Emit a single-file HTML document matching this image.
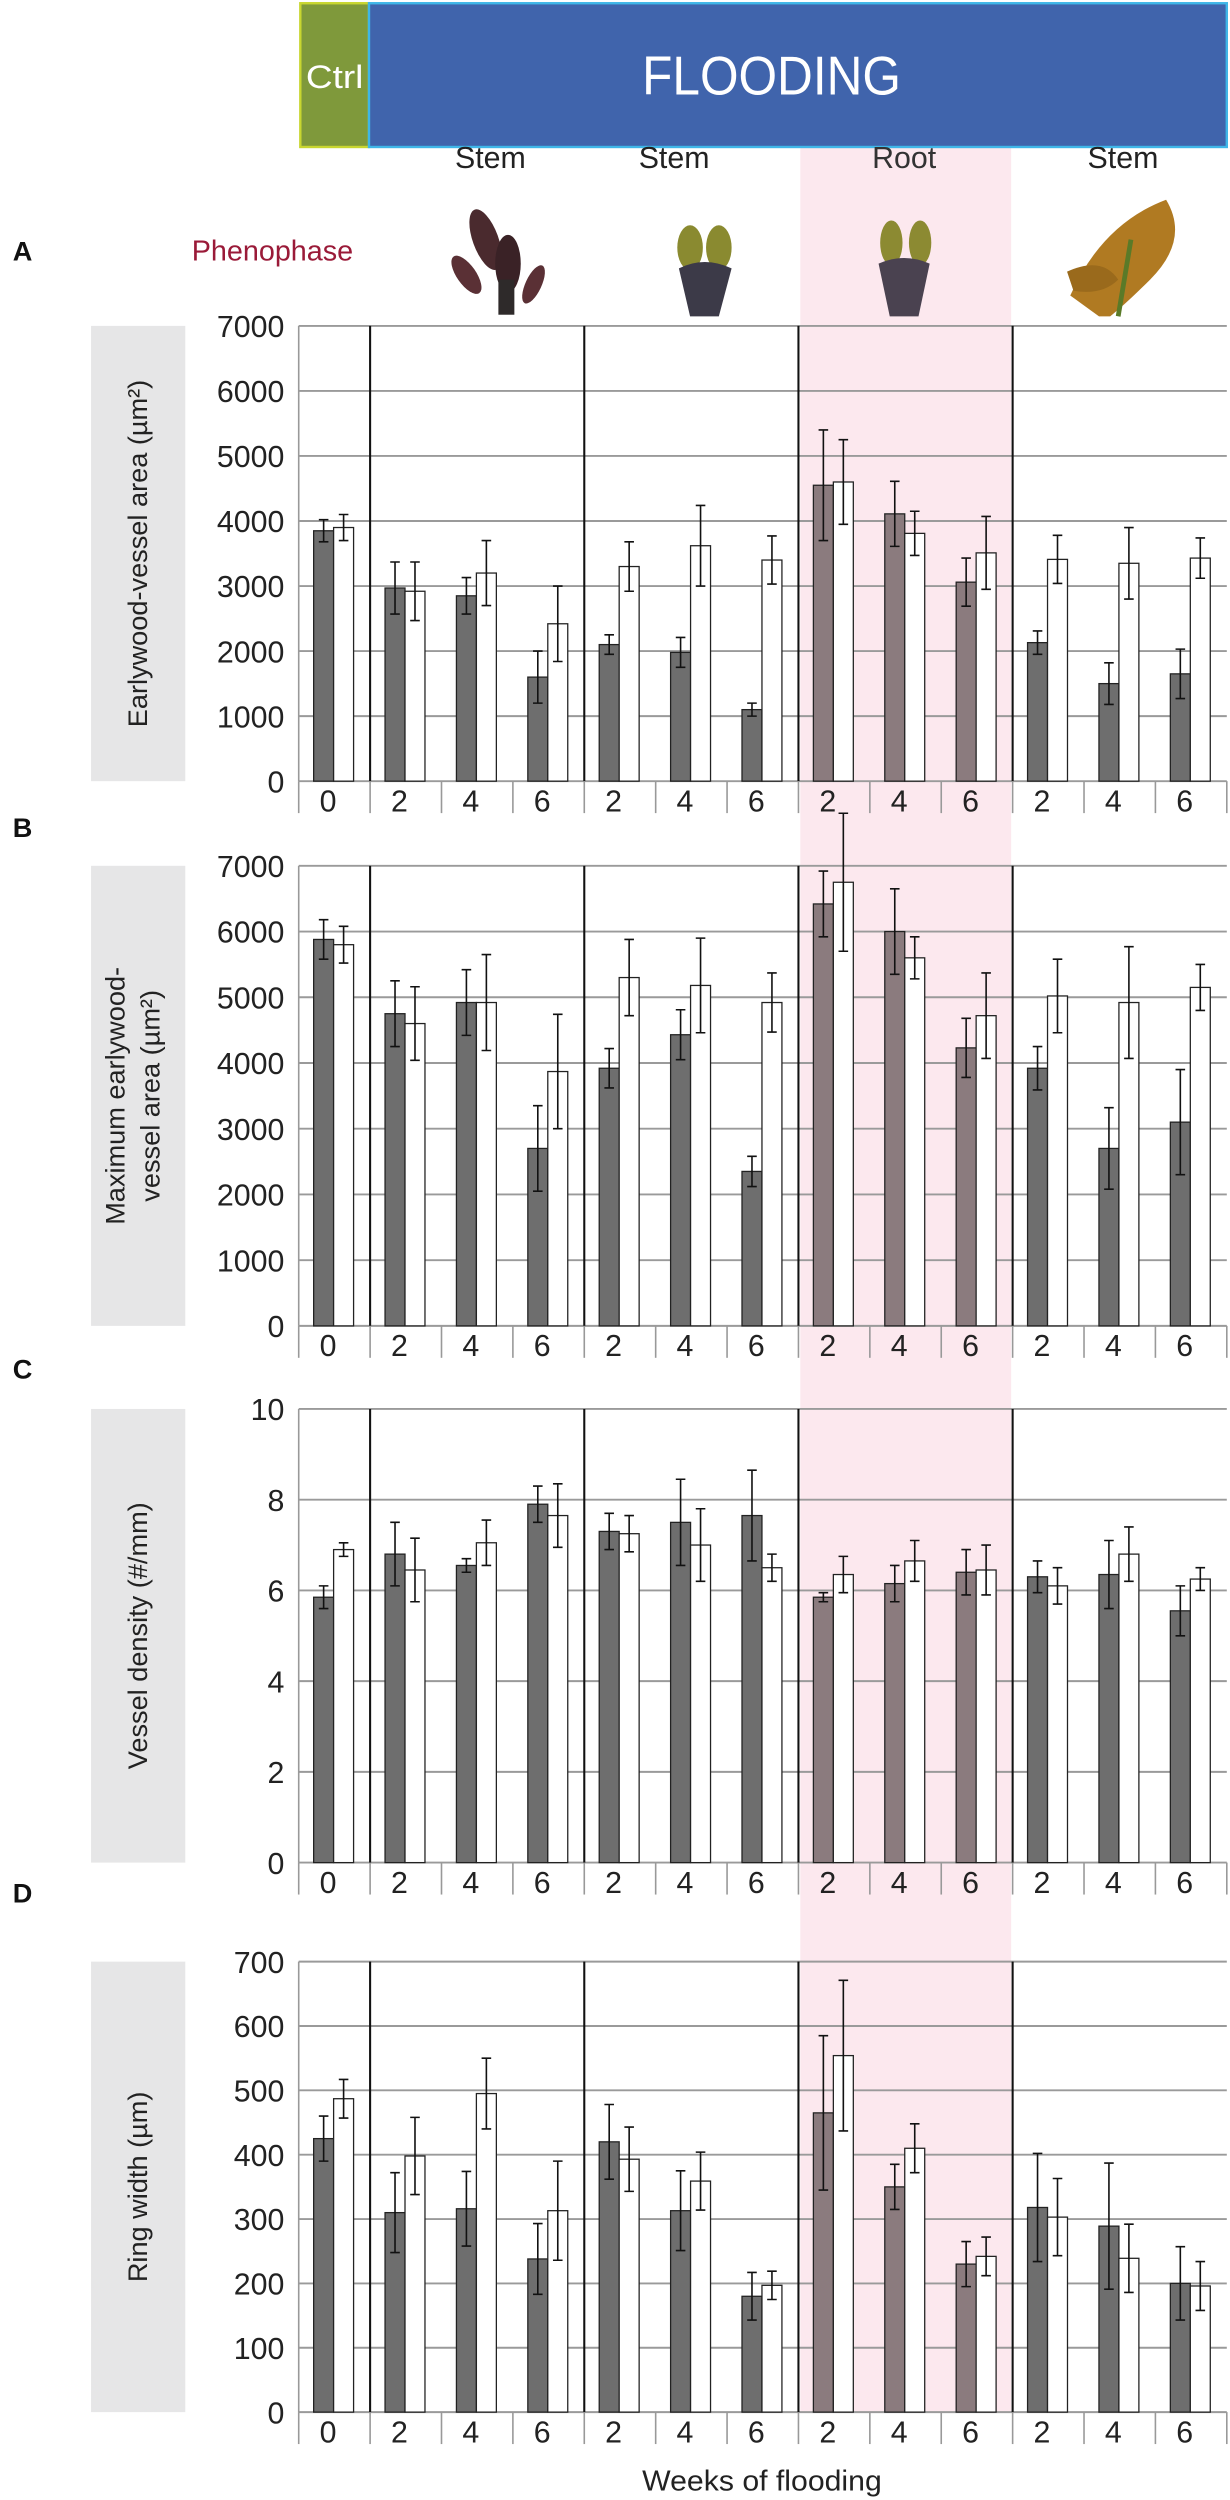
<!DOCTYPE html>
<html><head><meta charset="utf-8"><style>
html,body{margin:0;padding:0;background:#fff;}
svg{display:block;font-family:"Liberation Sans",sans-serif;}
</style></head><body>
<svg id="fig" width="1230" height="2500" viewBox="0 0 770 1565" xmlns="http://www.w3.org/2000/svg">
<rect x="501" y="78" width="132" height="1432" fill="#fce8ee"/>
<rect x="188" y="2" width="43" height="90" fill="#7f993b" stroke="#c8d630" stroke-width="1.5"/>
<text x="209.5" y="55" font-size="20" fill="#fff" text-anchor="middle" textLength="36" lengthAdjust="spacingAndGlyphs">Ctrl</text>
<rect x="231" y="2" width="537" height="90" fill="#4064ac" stroke="#3fb6e8" stroke-width="1.5"/>
<text x="483" y="59" font-size="34" fill="#fff" text-anchor="middle" textLength="162" lengthAdjust="spacingAndGlyphs">FLOODING</text>
<text x="307" y="105" font-size="19" text-anchor="middle" fill="#222">Stem</text>
<text x="422" y="105" font-size="19" text-anchor="middle" fill="#222">Stem</text>
<text x="566" y="105" font-size="19" text-anchor="middle" fill="#333">Root</text>
<text x="703" y="105" font-size="19" text-anchor="middle" fill="#222">Stem</text>
<text x="120" y="163" font-size="18" fill="#9a1a38">Phenophase</text>
<g>
<ellipse cx="304" cy="150" rx="8" ry="20" fill="#4a2a2e" transform="rotate(-20 304 150)"/>
<ellipse cx="318" cy="165" rx="8" ry="18" fill="#3a2226"/>
<ellipse cx="292" cy="172" rx="6" ry="14" fill="#5a3035" transform="rotate(-35 292 172)"/>
<ellipse cx="334" cy="178" rx="5" ry="13" fill="#5a3035" transform="rotate(25 334 178)"/>
<rect x="312" y="175" width="10" height="22" fill="#2e2a2a"/>
</g>
<g>
<ellipse cx="432" cy="155" rx="8" ry="14" fill="#8a8a30"/>
<ellipse cx="450" cy="155" rx="8" ry="14" fill="#8a8a30"/>
<path d="M425 168 Q441 160 458 168 L450 198 L432 198 Z" fill="#3c3a48"/>
</g>
<g>
<ellipse cx="558" cy="152" rx="7" ry="14" fill="#8c8a32"/>
<ellipse cx="576" cy="152" rx="7" ry="14" fill="#8c8a32"/>
<path d="M550 165 Q566 158 582 165 L575 198 L557 198 Z" fill="#4a4250"/>
</g>
<g>
<path d="M670 185 Q690 140 730 125 Q745 150 720 175 Q705 190 695 198 L688 198 Z" fill="#b07a22"/>
<path d="M668 170 Q690 160 700 175 Q690 185 672 182 Z" fill="#9a6a1c"/>
<path d="M700 198 L708 150" stroke="#5a7a28" stroke-width="3"/>
</g>
<g id="panels"></g>
<text x="477" y="1559" font-size="18" text-anchor="middle" fill="#222" textLength="150" lengthAdjust="spacingAndGlyphs">Weeks of flooding</text>
</svg>
<script>
const categories = ["0","2","4","6","2","4","6","2","4","6","2","4","6"];
const aDark = [3850,2970,2850,1600,2100,1980,1100,4550,4110,3060,2130,1500,1650];
const aDarkErr = [170,400,280,400,150,230,100,850,500,370,180,320,380];
const aWhite = [3900,2920,3200,2420,3300,3620,3400,4600,3810,3510,3410,3350,3430];
const aWhiteErr = [200,450,500,580,380,620,370,650,340,560,370,550,310];
const bDark = [5880,4750,4920,2700,3920,4430,2350,6420,6000,4230,3920,2700,3100];
const bDarkErr = [300,500,500,650,300,380,230,500,650,450,330,620,800];
const bWhite = [5800,4600,4920,3870,5300,5180,4920,6750,5600,4720,5020,4920,5150];
const bWhiteErr = [280,560,730,870,580,720,450,1050,320,650,560,850,350];
const cDark = [5.85,6.8,6.55,7.9,7.3,7.5,7.65,5.85,6.15,6.4,6.3,6.35,5.55];
const cDarkErr = [0.25,0.7,0.15,0.4,0.4,0.95,1.0,0.1,0.4,0.5,0.35,0.75,0.55];
const cWhite = [6.9,6.45,7.05,7.65,7.25,7.0,6.5,6.35,6.65,6.45,6.1,6.8,6.25];
const cWhiteErr = [0.15,0.7,0.5,0.7,0.4,0.8,0.3,0.4,0.45,0.55,0.4,0.6,0.25];
const dDark = [425,310,316,238,420,313,180,465,350,230,318,289,200];
const dDarkErr = [35,62,58,55,58,62,37,120,35,35,84,98,57];
const dWhite = [487,398,495,313,393,359,197,554,410,242,303,239,196];
const dWhiteErr = [30,60,55,77,50,45,22,117,38,30,60,53,38];
const aTicks = [0,1000,2000,3000,4000,5000,6000,7000];
const bTicks = [0,1000,2000,3000,4000,5000,6000,7000];
const cTicks = [0,2,4,6,8,10];
const dTicks = [0,100,200,300,400,500,600,700];

const NS="http://www.w3.org/2000/svg";
const root=document.getElementById('panels');
function mk(tag,attrs,parent){const e=document.createElementNS(NS,tag);for(const k in attrs)e.setAttribute(k,attrs[k]);(parent||root).appendChild(e);return e;}
const X0=187,X1=768,N=categories.length,GW=(X1-X0)/N;
function xCenter(i){return X0+GW*(i+0.5);}

function panel(key,letter,letterY,yTop,yBot,ticks,titleLines,dark,darkErr,white,whiteErr){
  const g=mk('g',{});
  
  
  const max=ticks[ticks.length-1];
  const y=v=>yBot-(v/max)*(yBot-yTop);
  const bx=mk('rect',{x:57,y:yTop,width:59,height:yBot-yTop,fill:'#e6e6e7'},g);
  
  
  const lt=mk('text',{x:8,y:letterY,'font-size':17,'font-weight':'bold',fill:'#111'},g);
  lt.textContent=letter;
  
  
  const cy=(yTop+yBot)/2;
  const tt=mk('text',{transform:`translate(${titleLines.length>1?78:92},${cy}) rotate(-90)`,'font-size':17,'text-anchor':'middle',fill:'#222'},g);
  
  
  titleLines.forEach((l,k)=>{const ts=mk('tspan',{x:0,dy:k?22:0},tt);ts.textContent=l;});
  ticks.forEach(t=>{
    const gl=mk('line',{x1:X0,x2:X1,y1:y(t),y2:y(t),stroke:'#9a9a9a','stroke-width':1.2},g);
    
    
    const tl=mk('text',{x:178,y:y(t)+7,'font-size':19,'text-anchor':'end',fill:'#222'},g);
    tl.textContent=t;
    
    
  });
  mk('line',{x1:X0,x2:X0,y1:yTop,y2:yBot,stroke:'#999'},g);
  [1,4,7,10].forEach(k=>{
    const d=mk('line',{x1:X0+GW*k,x2:X0+GW*k,y1:yTop,y2:yBot,stroke:'#111','stroke-width':1.3},g);
    
    
  });
  for(let k=0;k<=N;k++){
    mk('line',{x1:X0+GW*k,x2:X0+GW*k,y1:yBot,y2:yBot+20,stroke:'#999'},g);
  }
  categories.forEach((c,i)=>{
    const cx=xCenter(i);
    const pink=i>=7&&i<=9;
    const db=mk('rect',{x:cx-13,y:y(dark[i]),width:12.5,height:yBot-y(dark[i]),fill:pink?'#8b7b7e':'#6e6e6e',stroke:'#222','stroke-width':0.8},g);
    
    
    const wb=mk('rect',{x:cx-0.5,y:y(white[i]),width:12.5,height:yBot-y(white[i]),fill:'#fff',stroke:'#222','stroke-width':0.8},g);
    
    
    [[cx-6.75,dark[i],darkErr[i]],[cx+5.75,white[i],whiteErr[i]]].forEach(([ex,v,e])=>{
      const eb=mk('path',{d:`M${ex} ${y(v+e)}V${y(v-e)}M${ex-3} ${y(v+e)}H${ex+3}M${ex-3} ${y(v-e)}H${ex+3}`,stroke:'#111','stroke-width':1,fill:'none'},g);
      
      
    });
    const cl=mk('text',{x:cx-4,y:yBot+19,'font-size':19,'text-anchor':'middle',fill:'#222'},g);
    cl.textContent=c;
    
    
  });
}
panel('a','A',163,204,489,aTicks,['Earlywood-vessel area (µm²)'],aDark,aDarkErr,aWhite,aWhiteErr);
panel('b','B',524,542,830,bTicks,['Maximum earlywood-','vessel area (µm²)'],bDark,bDarkErr,bWhite,bWhiteErr);
panel('c','C',863,882,1166,cTicks,['Vessel density (#/mm)'],cDark,cDarkErr,cWhite,cWhiteErr);
panel('d','D',1191,1228,1510,dTicks,['Ring width (µm)'],dDark,dDarkErr,dWhite,dWhiteErr);
</script>
</body></html>
